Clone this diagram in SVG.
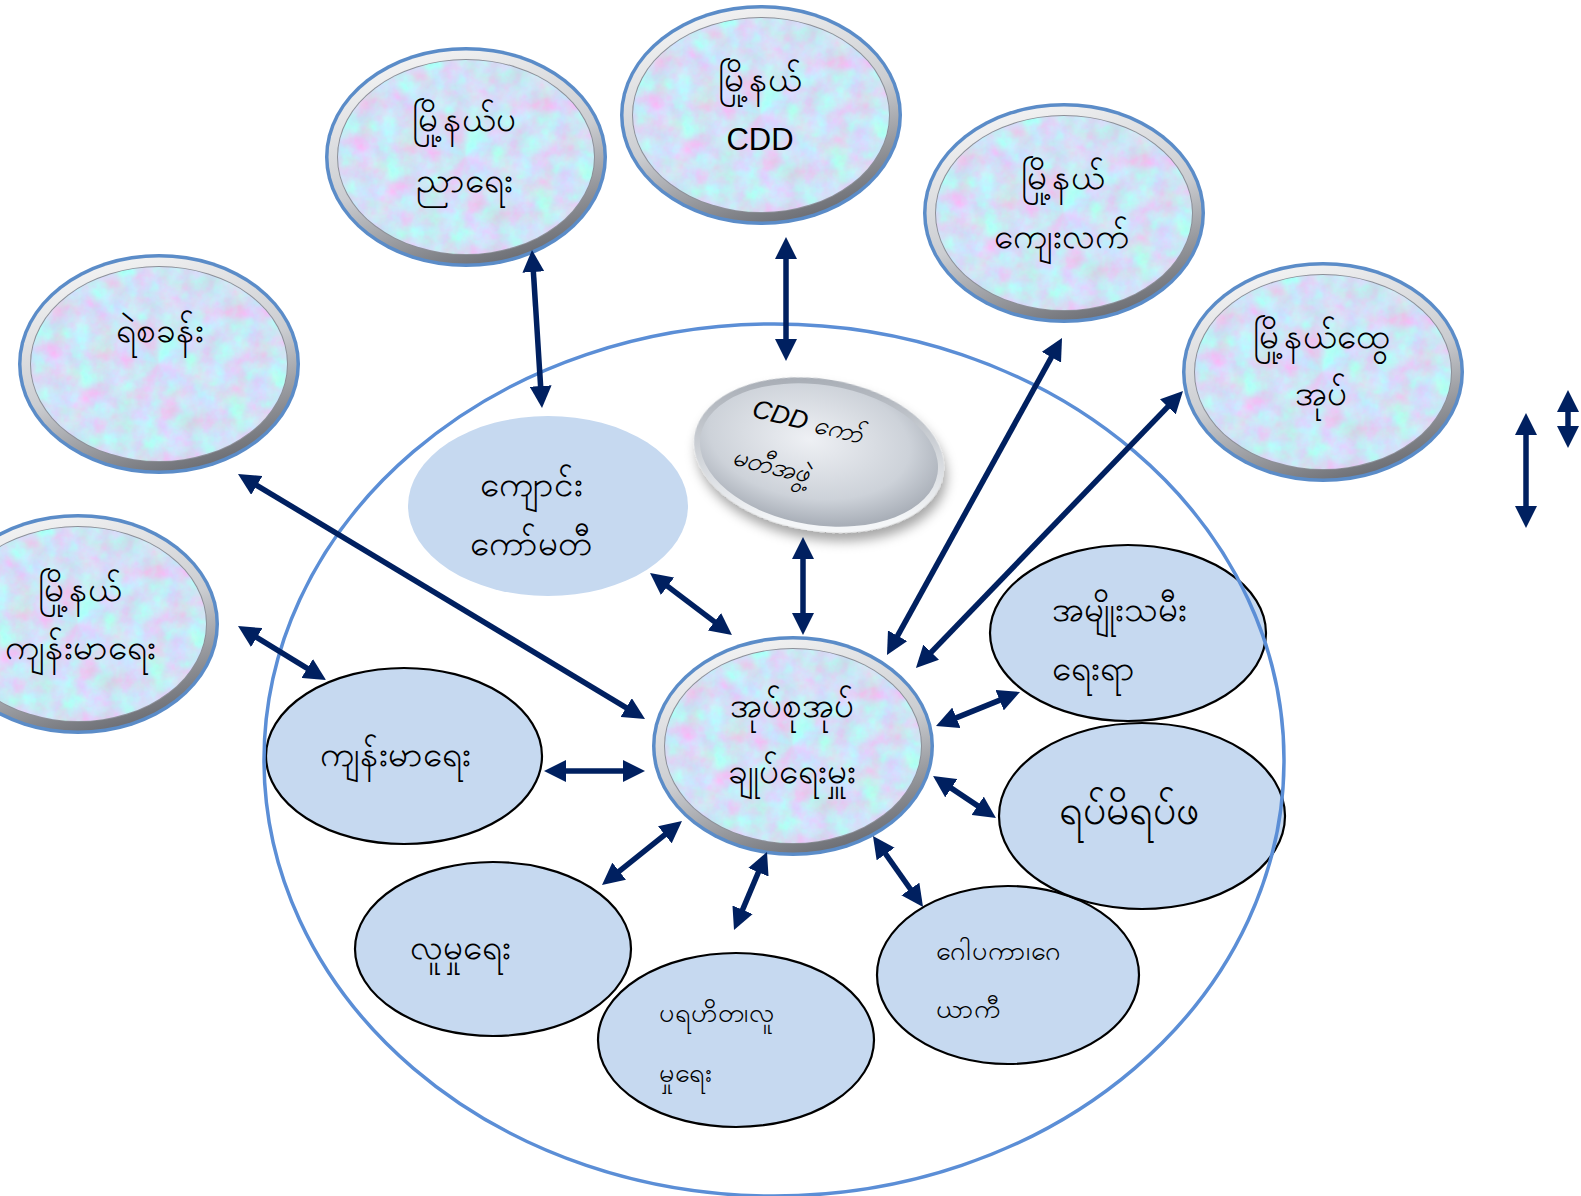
<svg xmlns="http://www.w3.org/2000/svg" xmlns:xlink="http://www.w3.org/1999/xlink" width="1581" height="1196" viewBox="0 0 1581 1196">
<defs>
<style>
.t{font-family:"Noto Sans","DejaVu Sans","Liberation Sans",sans-serif;font-size:35px;fill:#000;text-anchor:middle}
.tl{font-family:"Noto Sans","DejaVu Sans","Liberation Sans",sans-serif;font-size:35px;fill:#000;text-anchor:start}
.sm{font-size:27px}
.lat{font-family:"Liberation Sans","Noto Sans",sans-serif;font-weight:normal}
.plain{fill:#C6D9F0;stroke:#000;stroke-width:2.2}
.conn{stroke:#002060;stroke-width:5.5;fill:none;marker-start:url(#ah);marker-end:url(#ah)}
</style>
<marker id="ah" viewBox="0 0 10 10" refX="5" refY="5" markerWidth="4" markerHeight="4" orient="auto-start-reverse" markerUnits="strokeWidth">
<path d="M0,0 L10,5 L0,10 z" fill="#002060"/>
</marker>
<linearGradient id="silver" x1="0.2" y1="0" x2="0.6" y2="1">
<stop offset="0" stop-color="#F6F6F6"/>
<stop offset="0.55" stop-color="#CBCDD1"/>
<stop offset="1" stop-color="#6E7076"/>
</linearGradient>
<radialGradient id="disc" cx="0.45" cy="0.4" r="0.6">
<stop offset="0" stop-color="#EEF0F4"/>
<stop offset="0.7" stop-color="#CDD2D9"/>
<stop offset="1" stop-color="#A9AFB8"/>
</radialGradient>
<linearGradient id="discrim" x1="0" y1="0" x2="0.3" y2="1">
<stop offset="0" stop-color="#9EA4AD"/>
<stop offset="1" stop-color="#F4F6F8"/>
</linearGradient>
<filter id="tex" x="0" y="0" width="1" height="1" color-interpolation-filters="sRGB">
<feTurbulence type="fractalNoise" baseFrequency="0.045" numOctaves="5" seed="7" result="n"/>
<feColorMatrix in="n" type="matrix" values="0.3 -0.2 0 0 0.765  -0.2 0.3 0 0 0.835  0 0 0.15 0 0.89  0 0 0 0 1" result="c"/>
<feComposite in="c" in2="SourceGraphic" operator="in"/>
</filter>
<filter id="shadow" x="-0.2" y="-0.2" width="1.4" height="1.5">
<feDropShadow dx="4" dy="8" stdDeviation="6" flood-color="#000" flood-opacity="0.35"/>
</filter>
<g id="glossy">
<ellipse rx="141" ry="110" fill="#5B8CC8"/>
<ellipse rx="137.5" ry="106.5" fill="url(#silver)"/>
<ellipse rx="129" ry="98" fill="#8C9099"/>
<ellipse rx="128" ry="97" fill="#D9E5F6" filter="url(#tex)"/>
</g>
</defs>
<rect width="1581" height="1196" fill="#fff"/>

<g id="n-health-inner"><ellipse class="plain" cx="404" cy="756" rx="138" ry="88"/><text class="t" x="395" y="765.5">ကျန်းမာရေး</text></g>
<g id="n-social"><ellipse class="plain" cx="493" cy="949" rx="138" ry="87"/><text class="t" x="460" y="958.5">လူမှုရေး</text></g>
<g id="n-charity"><ellipse class="plain" cx="736" cy="1040" rx="138" ry="87"/><text class="tl sm" x="659" y="1021.5">ပရဟိတ၊လူ</text><text class="tl sm" x="659" y="1081.5">မှုရေး</text></g>
<g id="n-gopaka"><ellipse class="plain" cx="1008" cy="975" rx="131" ry="89"/><text class="tl sm" x="936" y="959.5">ဂေါပကာ၊ဂေ</text><text class="tl sm" x="936" y="1017.5">ယာကီ</text></g>
<g id="n-women"><ellipse class="plain" cx="1128" cy="633" rx="138" ry="88"/><text class="tl" x="1052" y="620.5">အမျိုးသမီး</text><text class="tl" x="1052" y="679.5">ရေးရာ</text></g>
<g id="n-elders"><ellipse class="plain" cx="1142" cy="816" rx="143" ry="93"/><text class="t" x="1129" y="824" style="font-size:41px">ရပ်မိရပ်ဖ</text></g>
<g id="n-school"><ellipse cx="548" cy="506" rx="140" ry="90" fill="#C6D9F0"/><text class="t" x="531" y="495.5">ကျောင်း</text><text class="t" x="531" y="554.5">ကော်မတီ</text></g>

<ellipse id="boundary" cx="774" cy="760" rx="510" ry="436" fill="none" stroke="#5B8ED6" stroke-width="3.5"/>

<g id="n-cdd-committee">
<g transform="translate(819,455) rotate(9)">
<ellipse rx="126" ry="76" fill="url(#discrim)" filter="url(#shadow)"/>
<ellipse rx="120" ry="70" fill="url(#disc)"/>
</g>
<g transform="translate(819,455) rotate(14)">
<text class="t" x="-18.7" y="-21" style="font-size:26px;font-style:italic"><tspan class="lat">CDD</tspan> ကော်</text>
<text class="t" x="-44" y="30" style="font-size:26px;font-style:italic">မတီအဖွဲ့</text>
</g>
</g>

<g id="n-education" transform="translate(466,157)"><use href="#glossy"/><text class="t" x="-2" y="-26.5">မြို့နယ်ပ</text><text class="t" x="-2" y="34.5">ညာရေး</text></g>
<g id="n-cdd" transform="translate(761,115)"><use href="#glossy"/><text class="t" x="-1" y="-24.5">မြို့နယ်</text><text class="t lat" x="-1" y="34.5" style="font-size:31px">CDD</text></g>
<g id="n-rural" transform="translate(1064,213)"><use href="#glossy"/><text class="t" x="-1" y="-24.5">မြို့နယ်</text><text class="t" x="-3" y="34.5">ကျေးလက်</text></g>
<g id="n-gad" transform="translate(1323,372)"><use href="#glossy"/><text class="t" x="-2" y="-24.5">မြို့နယ်ထွေ</text><text class="t" x="-2" y="32.5">အုပ်</text></g>
<g id="n-police" transform="translate(159,364)"><use href="#glossy"/><text class="t" x="1" y="-22.5">ရဲစခန်း</text></g>
<g id="n-health" transform="translate(78,624)"><use href="#glossy"/><text class="t" x="2" y="-23.5">မြို့နယ်</text><text class="t" x="2" y="34.5">ကျန်းမာရေး</text></g>
<g id="n-center" transform="translate(793,746)"><use href="#glossy"/><text class="t" x="-1" y="-29.5">အုပ်စုအုပ်</text><text class="t" x="-1" y="36.5">ချုပ်ရေးမှူး</text></g>

<g id="connectors">
<line class="conn" x1="532.7" y1="261" x2="541.3" y2="397"/>
<line class="conn" x1="786" y1="248" x2="786" y2="350"/>
<line class="conn" x1="1056.7" y1="347.6" x2="892.3" y2="645.4"/>
<line class="conn" x1="1175.4" y1="398.9" x2="923.6" y2="660.1"/>
<line class="conn" x1="247.4" y1="479.7" x2="635.6" y2="713.3"/>
<line class="conn" x1="247.4" y1="631.8" x2="316.6" y2="674.2"/>
<line class="conn" x1="658.8" y1="579.6" x2="723.2" y2="628.4"/>
<line class="conn" x1="803" y1="548" x2="803" y2="624"/>
<line class="conn" x1="555" y1="771" x2="634" y2="771"/>
<line class="conn" x1="946.2" y1="721.9" x2="1009.8" y2="696.1"/>
<line class="conn" x1="942.2" y1="782.1" x2="986.8" y2="811.9"/>
<line class="conn" x1="610.6" y1="878.1" x2="673.4" y2="827.9"/>
<line class="conn" x1="738.3" y1="919.9" x2="762.7" y2="862.1"/>
<line class="conn" x1="879.3" y1="845" x2="916.7" y2="898"/>
<line class="conn" x1="1526" y1="424" x2="1526" y2="517"/>
<line class="conn" x1="1568" y1="401" x2="1568" y2="437"/>
</g>
</svg>
